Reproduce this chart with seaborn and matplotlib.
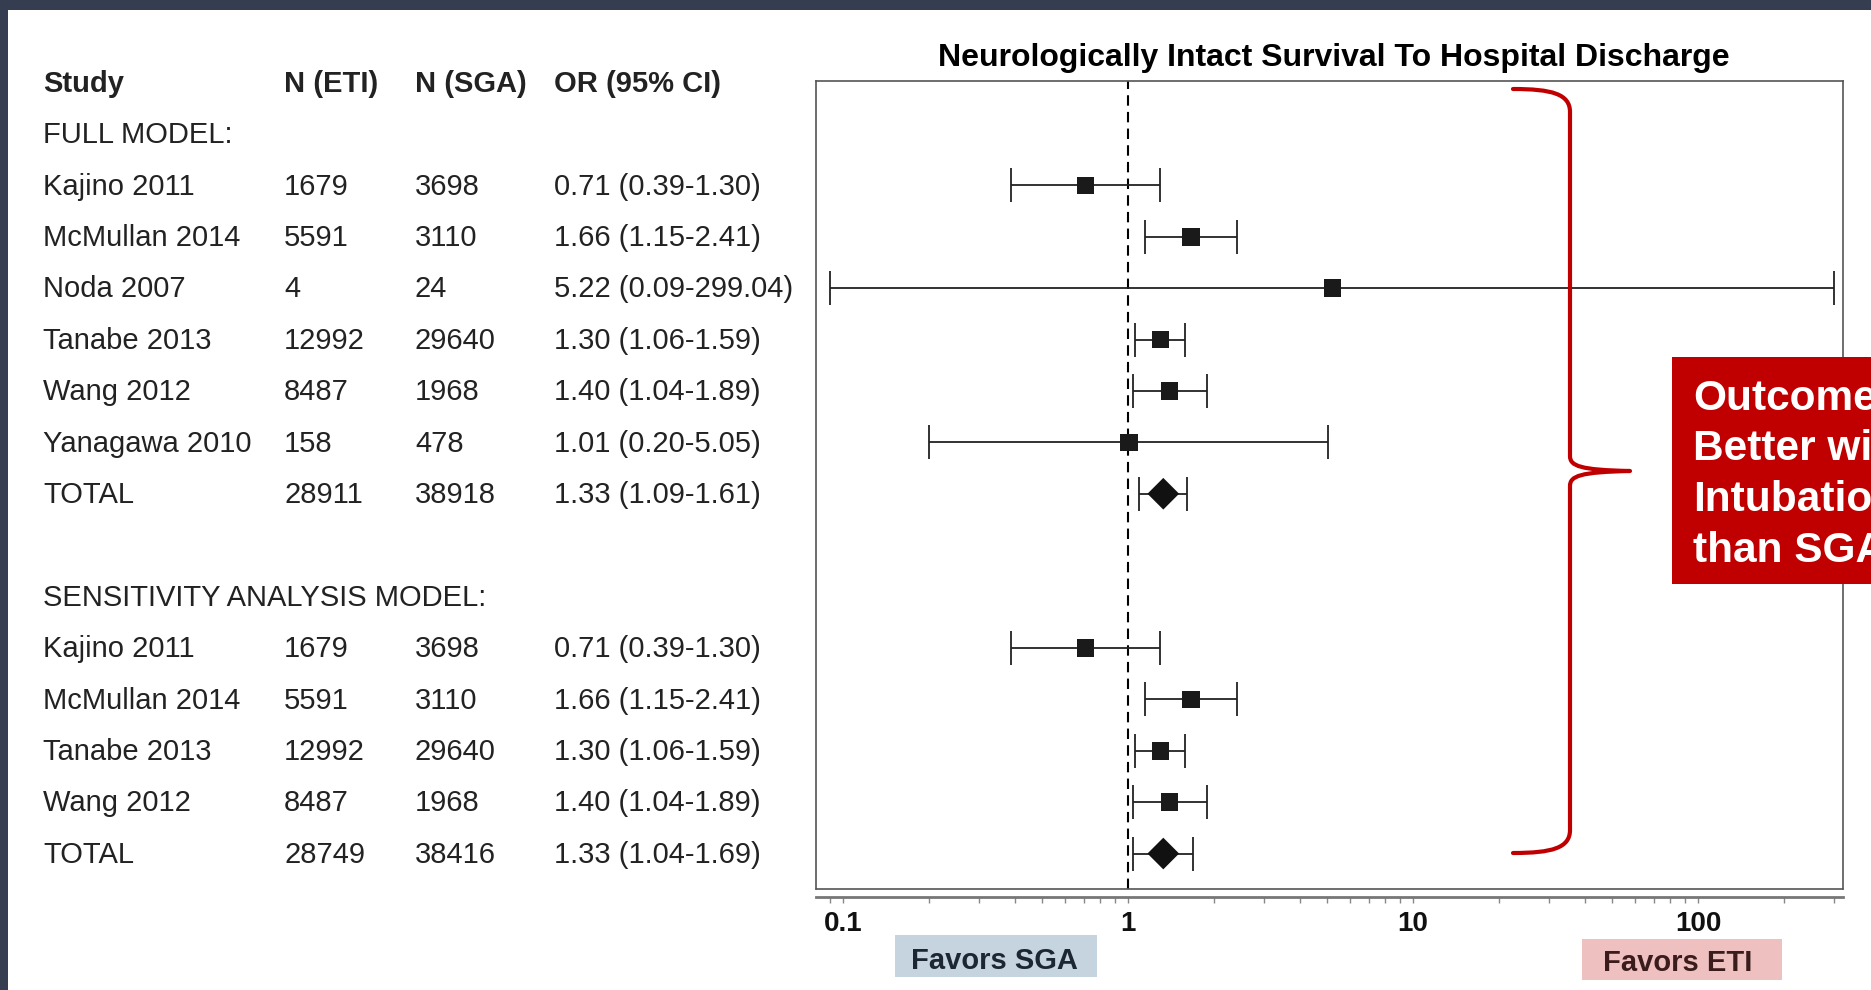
import numpy as np
import pandas as pd
import matplotlib
matplotlib.use("Agg")
import matplotlib.pyplot as plt
import seaborn as sns
from matplotlib.patches import Rectangle, PathPatch
from matplotlib.path import Path
from matplotlib.transforms import blended_transform_factory
from matplotlib.ticker import FixedLocator, NullFormatter, FixedFormatter

# ---------------- data ----------------
studies_full = ["Kajino 2011", "McMullan 2014", "Noda 2007", "Tanabe 2013",
                "Wang 2012", "Yanagawa 2010", "TOTAL"]
n_eti_full = [1679, 5591, 4, 12992, 8487, 158, 28911]
n_sga_full = [3698, 3110, 24, 29640, 1968, 478, 38918]
or_full = [0.71, 1.66, 5.22, 1.30, 1.40, 1.01, 1.33]
lo_full = [0.39, 1.15, 0.09, 1.06, 1.04, 0.20, 1.09]
hi_full = [1.30, 2.41, 299.04, 1.59, 1.89, 5.05, 1.61]

studies_sens = ["Kajino 2011", "McMullan 2014", "Tanabe 2013", "Wang 2012", "TOTAL"]
n_eti_sens = [1679, 5591, 12992, 8487, 28749]
n_sga_sens = [3698, 3110, 29640, 1968, 38416]
or_sens = [0.71, 1.66, 1.30, 1.40, 1.33]
lo_sens = [0.39, 1.15, 1.06, 1.04, 1.04]
hi_sens = [1.30, 2.41, 1.59, 1.89, 1.69]

header = ["Study", "N (ETI)", "N (SGA)", "OR (95% CI)"]
section_labels = ["FULL MODEL:", "SENSITIVITY ANALYSIS MODEL:"]
tick_values = [0.1, 1, 10, 100]
tick_labels = ["0.1", "1", "10", "100"]
title = "Neurologically Intact Survival To Hospital Discharge"
favors_left = "Favors SGA"
favors_right = "Favors ETI"
callout = "Outcomes\nBetter with\nIntubation\nthan SGA"

# ---------------- table ----------------
rows = []
sec_rows = [1, 10]
for start, studies, ne, ns, o, lo, hi in [
    (2, studies_full, n_eti_full, n_sga_full, or_full, lo_full, hi_full),
    (11, studies_sens, n_eti_sens, n_sga_sens, or_sens, lo_sens, hi_sens),
]:
    for k in range(len(studies)):
        rows.append(dict(row=start + k, study=studies[k], n_eti=ne[k], n_sga=ns[k],
                         OR=o[k], lo=lo[k], hi=hi[k],
                         kind="total" if studies[k] == "TOTAL" else "study"))
df = pd.DataFrame(rows)

# ---------------- figure ----------------
sns.set_theme(style="white")
plt.rcParams["font.family"] = ["Liberation Sans", "DejaVu Sans"]

W, H = 1871, 990
fig = plt.figure(figsize=(W / 100, H / 100), dpi=100, facecolor="white")

def fx(x):
    return x / W

def fy(y):
    return 1 - y / H

# dark border bands (top and left)
fig.patches.append(Rectangle((0, fy(10)), 1, 10 / H, transform=fig.transFigure,
                             facecolor="#343e50", edgecolor="none", zorder=-5))
fig.patches.append(Rectangle((0, 0), fx(8), 1, transform=fig.transFigure,
                             facecolor="#343e50", edgecolor="none", zorder=-5))

ax = fig.add_axes([fx(816), fy(889), (1843 - 816) / W, (889 - 81) / H])
ax.set_facecolor("white")
ax.set_xscale("log")
ax.set_xlim(10 ** -1.0947, 10 ** 2.5088)
ax.set_ylim(15.69, -0.03)

# reference line
ax.axvline(1, color="black", lw=1.5, ls=(0, (5, 3)), zorder=1)

# error bars
for _, r in df.iterrows():
    ax.errorbar(r.OR, r.row, xerr=[[r.OR - r.lo], [r.hi - r.OR]], fmt="none",
                ecolor="#222222", elinewidth=1.3, capsize=12, capthick=1.3, zorder=2)

sns.scatterplot(data=df[df.kind == "study"], x="OR", y="row", marker="s", s=160,
                color="#1a1a1a", edgecolor="none", ax=ax, zorder=3, legend=False)
sns.scatterplot(data=df[df.kind == "total"], x="OR", y="row", marker="D", s=260,
                color="#111111", edgecolor="none", ax=ax, zorder=3, legend=False)

ax.set_xlabel("")
ax.set_ylabel("")
ax.set_yticks([])

# frame
for side in ["top", "left", "right"]:
    ax.spines[side].set_color("#555555")
    ax.spines[side].set_linewidth(1.2)
ax.spines["bottom"].set_position(("outward", 6))
ax.spines["bottom"].set_color("#777777")
ax.spines["bottom"].set_linewidth(2.0)
ax.plot([0, 1], [0, 0], transform=ax.transAxes, color="#555555", lw=1.2,
        clip_on=False, zorder=4)

ax.xaxis.set_major_locator(FixedLocator(tick_values))
ax.xaxis.set_major_formatter(FixedFormatter(tick_labels))
minor = [m * 10.0 ** e for e in range(-2, 3) for m in range(2, 10)]
ax.xaxis.set_minor_locator(FixedLocator(minor))
ax.xaxis.set_minor_formatter(NullFormatter())
ax.tick_params(axis="x", which="both", direction="out", length=4, width=1.0,
               color="#888888", bottom=True)
ax.tick_params(axis="x", which="major", labelsize=20, pad=5.5, labelcolor="#111111")
for lab in ax.get_xticklabels():
    lab.set_fontweight("bold")

# table text
tr = blended_transform_factory(fig.transFigure, ax.transData)
col_x = [fx(43), fx(284), fx(415), fx(554)]
tcol = "#222222"
dy = 0.025
fs = 21
for cx, h in zip(col_x, header):
    ax.text(cx, 0 + dy, h, transform=tr, fontsize=fs, fontweight="bold", color=tcol,
            va="center", ha="left", clip_on=False)
for r_, lab in zip(sec_rows, section_labels):
    ax.text(col_x[0], r_ + dy, lab, transform=tr, fontsize=fs, color=tcol,
            va="center", ha="left", clip_on=False)
for _, r in df.iterrows():
    vals = [r.study, f"{r.n_eti}", f"{r.n_sga}", f"{r.OR:.2f} ({r.lo:.2f}-{r.hi:.2f})"]
    for cx, v in zip(col_x, vals):
        ax.text(cx, r.row + dy, v, transform=tr, fontsize=fs, color=tcol,
                va="center", ha="left", clip_on=False)

# title
fig.text(fx(1334), fy(66), title, ha="center", va="baseline", fontsize=23,
         fontweight="bold", color="black")

# favors boxes
fig.patches.append(Rectangle((fx(895), fy(977)), (1097 - 895) / W, (977 - 935) / H,
                             transform=fig.transFigure, facecolor="#c6d4df",
                             edgecolor="none", zorder=1))
fig.text(fx(994), fy(969), favors_left, ha="center", va="baseline", fontsize=21,
         fontweight="bold", color="#1c2733")
fig.patches.append(Rectangle((fx(1582), fy(980)), (1782 - 1582) / W, (980 - 939) / H,
                             transform=fig.transFigure, facecolor="#efc0c0",
                             edgecolor="none", zorder=1))
fig.text(fx(1678), fy(971), favors_right, ha="center", va="baseline", fontsize=21,
         fontweight="bold", color="#3a1c1c")

# red brace
verts = [
    (1513, 89), (1552, 89), (1570, 94), (1570, 112),
    (1570, 456),
    (1570, 466), (1580, 470), (1630, 471),
    (1580, 472), (1570, 476), (1570, 486),
    (1570, 830),
    (1570, 848), (1552, 853), (1513, 853),
]
codes = [Path.MOVETO, Path.CURVE4, Path.CURVE4, Path.CURVE4,
         Path.LINETO,
         Path.CURVE4, Path.CURVE4, Path.CURVE4,
         Path.CURVE4, Path.CURVE4, Path.CURVE4,
         Path.LINETO,
         Path.CURVE4, Path.CURVE4, Path.CURVE4]
brace = Path([(fx(x), fy(y)) for x, y in verts], codes)
fig.patches.append(PathPatch(brace, transform=fig.transFigure, facecolor="none",
                             edgecolor="#c00000", lw=3.0, capstyle="round",
                             joinstyle="round", zorder=5))

# red callout box
fig.patches.append(Rectangle((fx(1672), fy(584)), 0.2, (584 - 357) / H,
                             transform=fig.transFigure, facecolor="#c00000",
                             edgecolor="none", zorder=6))
callout_lines = callout.split("\n")
for i, line in enumerate(callout_lines):
    fig.text(fx(1693), fy(410 + 50.5 * i), line, ha="left", va="baseline",
             fontsize=30.5, fontweight="bold", color="white", zorder=7)

fig.savefig("out.png", dpi=100, facecolor=fig.get_facecolor())
